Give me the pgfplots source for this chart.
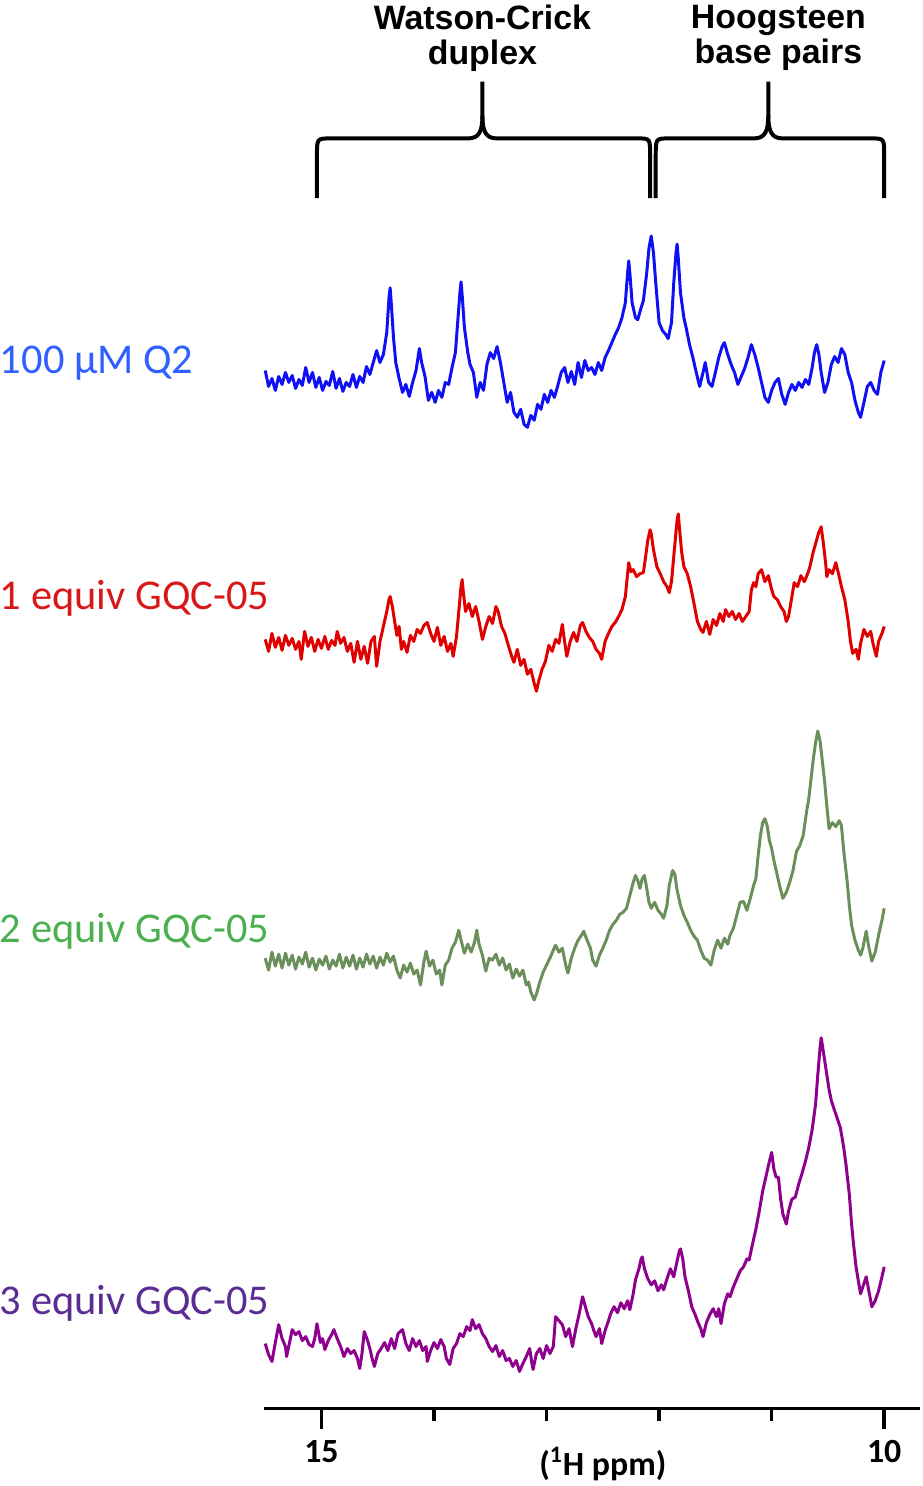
\documentclass[border=0pt]{standalone}
\usepackage{fontspec}
\setmainfont{Carlito}
\newfontfamily\headfont{Liberation Sans}
\usepackage{pgfplots}
\pgfplotsset{compat=1.18}
\definecolor{lnblue}{HTML}{1010F5}
\definecolor{lnred}{HTML}{E00000}
\definecolor{lngreen}{HTML}{6B8F5B}
\definecolor{lnpurple}{HTML}{8E008E}
\definecolor{lbblue}{HTML}{3060FF}
\definecolor{lbred}{HTML}{D81818}
\definecolor{lbgreen}{HTML}{4CAF50}
\definecolor{lbpurple}{HTML}{5A2D92}
\pgfplotsset{
  spec/.style={line width=1.5pt, line join=round, mark=none},
}

\begin{document}
\begin{tikzpicture}
\begin{axis}[
  x dir=reverse, x=56.5pt, y=0.5pt,
  xmin=9.68, xmax=15.51, ymin=0, ymax=1200,
  axis x line*=bottom, axis y line=none,
  x axis line style={-, line width=1.8pt},
  xtick={10,15}, minor xtick={11,12,13,14},
  tick align=outside, major tick length=10.5pt, minor tick length=6.5pt,
  tick style={line width=1.8pt, black},
  xticklabel style={font=\fontsize{17}{20}\selectfont\bfseries, yshift=-2pt},
  /pgf/number format/assume math mode=true,
  clip=false,
]
% 100 uM Q2
\addplot[spec, lnblue] coordinates {
(15.50,1042) (15.47,1026) (15.44,1034) (15.41,1022) (15.38,1036) (15.35,1028) (15.32,1040) (15.29,1030)
(15.26,1037) (15.23,1024) (15.20,1033) (15.17,1027) (15.14,1045) (15.11,1030) (15.08,1040) (15.05,1025)
(15.02,1035) (14.99,1022) (14.96,1031) (14.93,1027) (14.90,1041) (14.87,1024) (14.84,1034) (14.81,1021)
(14.78,1030) (14.75,1026) (14.72,1038) (14.69,1025) (14.66,1036) (14.63,1030) (14.60,1046) (14.57,1038)
(14.54,1050) (14.51,1062) (14.48,1050) (14.45,1058) (14.42,1080) (14.40,1115) (14.39,1125) (14.38,1110)
(14.36,1075) (14.34,1050) (14.31,1034) (14.28,1020) (14.25,1028) (14.22,1016) (14.19,1030) (14.16,1042)
(14.13,1064) (14.11,1050) (14.08,1036) (14.05,1012) (14.02,1020) (13.99,1010) (13.96,1022) (13.93,1015)
(13.90,1030) (13.87,1028) (13.84,1045) (13.81,1060) (13.79,1090) (13.77,1120) (13.76,1131) (13.75,1118)
(13.73,1085) (13.70,1060) (13.68,1048) (13.65,1040) (13.62,1015) (13.59,1030) (13.56,1022) (13.53,1048)
(13.50,1060) (13.47,1054) (13.44,1066) (13.41,1050) (13.38,1030) (13.35,1010) (13.32,1020) (13.29,1000)
(13.26,995) (13.23,1003) (13.20,988) (13.17,985) (13.14,997) (13.11,992) (13.08,1008) (13.05,1003)
(13.02,1018) (12.99,1010) (12.96,1022) (12.93,1015) (12.90,1027) (12.87,1040) (12.84,1045) (12.81,1030)
(12.78,1041) (12.75,1028) (12.72,1050) (12.69,1035) (12.66,1052) (12.63,1042) (12.60,1045) (12.57,1038)
(12.54,1050) (12.51,1042) (12.48,1055) (12.45,1062) (12.42,1070) (12.39,1078) (12.36,1085) (12.33,1095)
(12.30,1110) (12.28,1140) (12.27,1152) (12.26,1140) (12.24,1110) (12.21,1095) (12.19,1093) (12.16,1105)
(12.14,1112) (12.11,1140) (12.09,1165) (12.07,1177) (12.05,1160) (12.03,1130) (12.00,1090) (11.97,1082)
(11.94,1078) (11.92,1074) (11.89,1090) (11.87,1130) (11.85,1160) (11.84,1169) (11.83,1155) (11.81,1120)
(11.78,1095) (11.76,1085) (11.73,1068) (11.70,1055) (11.67,1040) (11.64,1026) (11.61,1040) (11.59,1050)
(11.56,1030) (11.53,1026) (11.50,1040) (11.47,1055) (11.44,1066) (11.42,1070) (11.39,1058) (11.36,1048)
(11.33,1040) (11.30,1028) (11.27,1036) (11.24,1044) (11.21,1055) (11.18,1068) (11.15,1058) (11.12,1045)
(11.09,1030) (11.06,1015) (11.03,1010) (11.00,1022) (10.97,1030) (10.94,1034) (10.91,1018) (10.88,1008)
(10.85,1020) (10.82,1028) (10.79,1022) (10.76,1030) (10.73,1025) (10.70,1033) (10.67,1028) (10.64,1045)
(10.62,1060) (10.60,1068) (10.58,1058) (10.56,1040) (10.53,1020) (10.50,1030) (10.47,1048) (10.44,1056)
(10.41,1050) (10.38,1064) (10.35,1058) (10.32,1040) (10.29,1030) (10.26,1012) (10.23,1000) (10.21,995)
(10.18,1010) (10.15,1026) (10.12,1030) (10.09,1022) (10.06,1018) (10.03,1040) (10.00,1052)
};
% 1 equiv GQC-05
\addplot[spec, lnred] coordinates {
(15.50,772) (15.47,760) (15.44,778) (15.41,764) (15.38,774) (15.35,761) (15.32,776) (15.29,766)
(15.26,773) (15.23,762) (15.20,770) (15.18,752) (15.15,780) (15.12,765) (15.09,774) (15.06,760)
(15.03,772) (15.00,763) (14.97,775) (14.94,762) (14.91,771) (14.88,766) (14.86,780) (14.83,768)
(14.80,774) (14.77,760) (14.74,768) (14.71,749) (14.68,770) (14.65,752) (14.62,765) (14.59,748)
(14.56,770) (14.53,775) (14.51,745) (14.48,770) (14.45,785) (14.42,800) (14.40,812) (14.39,815)
(14.37,805) (14.35,790) (14.33,776) (14.31,785) (14.29,762) (14.27,770) (14.24,759) (14.21,776)
(14.18,770) (14.15,782) (14.12,778) (14.09,786) (14.06,789) (14.03,778) (14.00,770) (13.97,784)
(13.94,766) (13.91,775) (13.88,760) (13.85,768) (13.83,755) (13.80,775) (13.78,800) (13.76,825)
(13.75,832) (13.74,820) (13.72,800) (13.69,808) (13.66,795) (13.63,805) (13.60,790) (13.57,772)
(13.54,785) (13.51,795) (13.48,788) (13.45,805) (13.43,800) (13.40,785) (13.37,778) (13.34,766)
(13.31,755) (13.29,749) (13.26,762) (13.23,746) (13.20,752) (13.17,737) (13.14,742) (13.11,728)
(13.09,720) (13.07,730) (13.04,742) (13.01,750) (12.98,766) (12.95,760) (12.92,772) (12.89,768)
(12.86,787) (12.84,770) (12.82,755) (12.79,770) (12.76,779) (12.73,770) (12.70,786) (12.68,789)
(12.65,780) (12.62,774) (12.59,770) (12.56,762) (12.53,758) (12.51,752) (12.48,770) (12.45,778)
(12.42,785) (12.39,789) (12.36,795) (12.33,802) (12.30,815) (12.28,838) (12.27,849) (12.25,840)
(12.23,842) (12.20,835) (12.17,838) (12.14,839) (12.12,855) (12.10,872) (12.08,882) (12.07,878)
(12.05,862) (12.02,845) (11.99,838) (11.96,830) (11.93,825) (11.91,819) (11.89,830) (11.87,855)
(11.85,880) (11.84,892) (11.83,898) (11.82,885) (11.80,860) (11.78,845) (11.75,838) (11.72,825)
(11.69,808) (11.66,790) (11.63,782) (11.61,779) (11.58,790) (11.55,777) (11.52,792) (11.49,786)
(11.46,798) (11.43,790) (11.41,802) (11.38,795) (11.35,800) (11.32,792) (11.29,798) (11.26,790)
(11.23,795) (11.20,800) (11.18,822) (11.16,829) (11.14,825) (11.12,838) (11.09,842) (11.06,830)
(11.03,836) (11.00,822) (10.98,815) (10.95,812) (10.92,805) (10.89,800) (10.87,790) (10.85,795)
(10.82,815) (10.80,829) (10.77,825) (10.74,836) (10.71,830) (10.68,838) (10.66,845) (10.63,860)
(10.60,872) (10.58,880) (10.56,885) (10.54,868) (10.52,848) (10.51,835) (10.49,842) (10.46,838)
(10.43,849) (10.41,840) (10.38,825) (10.35,812) (10.32,790) (10.30,770) (10.28,758) (10.25,762)
(10.23,752) (10.21,768) (10.18,782) (10.15,775) (10.12,780) (10.10,768) (10.07,755) (10.05,770)
(10.02,778) (10.00,785)
};
% 2 equiv GQC-05
\addplot[spec, lngreen] coordinates {
(15.50,452) (15.47,440) (15.44,458) (15.41,444) (15.38,456) (15.35,442) (15.32,457) (15.29,445)
(15.26,455) (15.23,441) (15.20,453) (15.17,446) (15.14,458) (15.11,443) (15.08,452) (15.05,440)
(15.02,451) (14.99,445) (14.96,454) (14.93,441) (14.90,450) (14.87,444) (14.84,456) (14.81,442)
(14.78,453) (14.75,444) (14.72,455) (14.69,441) (14.66,452) (14.63,443) (14.60,456) (14.57,446)
(14.54,454) (14.51,442) (14.48,453) (14.45,445) (14.42,457) (14.39,448) (14.36,454) (14.33,440)
(14.30,432) (14.27,445) (14.24,438) (14.21,447) (14.18,436) (14.15,440) (14.12,425) (14.09,448)
(14.07,459) (14.04,444) (14.01,450) (13.98,436) (13.95,440) (13.93,425) (13.90,445) (13.87,450)
(13.84,462) (13.81,468) (13.78,480) (13.76,470) (13.73,457) (13.70,466) (13.67,458) (13.64,468)
(13.62,480) (13.60,466) (13.57,455) (13.54,439) (13.51,452) (13.48,450) (13.45,456) (13.42,445)
(13.39,452) (13.36,440) (13.33,446) (13.30,432) (13.27,441) (13.24,434) (13.21,440) (13.18,425)
(13.16,428) (13.14,418) (13.11,410) (13.09,416) (13.06,428) (13.03,438) (13.00,445) (12.97,452)
(12.94,460) (12.92,465) (12.89,458) (12.86,462) (12.83,445) (12.81,437) (12.78,452) (12.75,462)
(12.72,470) (12.69,475) (12.67,479) (12.64,470) (12.61,462) (12.59,450) (12.56,444) (12.53,455)
(12.50,462) (12.47,470) (12.44,480) (12.41,486) (12.38,490) (12.35,496) (12.32,498) (12.29,502)
(12.26,515) (12.23,528) (12.21,535) (12.19,530) (12.17,522) (12.15,532) (12.13,535) (12.11,522)
(12.09,508) (12.07,502) (12.04,508) (12.01,500) (11.98,496) (11.96,492) (11.93,505) (11.91,525)
(11.88,540) (11.86,536) (11.84,520) (11.81,505) (11.78,495) (11.75,488) (11.72,480) (11.69,474)
(11.66,470) (11.63,460) (11.60,452) (11.57,450) (11.54,445) (11.51,460) (11.48,470) (11.45,462)
(11.42,472) (11.39,466) (11.37,475) (11.34,482) (11.31,495) (11.28,508) (11.25,509) (11.22,500)
(11.19,512) (11.16,525) (11.14,532) (11.12,555) (11.10,575) (11.08,588) (11.06,592) (11.04,585)
(11.02,570) (11.00,562) (10.98,550) (10.96,540) (10.93,525) (10.90,512) (10.87,518) (10.84,528)
(10.81,540) (10.78,559) (10.75,565) (10.72,575) (10.69,599) (10.67,612) (10.65,632) (10.63,652)
(10.61,668) (10.59,680) (10.57,670) (10.55,650) (10.53,630) (10.51,605) (10.49,582) (10.46,588)
(10.43,584) (10.40,590) (10.38,585) (10.36,560) (10.33,530) (10.31,505) (10.29,485) (10.26,470)
(10.23,460) (10.21,455) (10.19,462) (10.16,479) (10.14,465) (10.11,449) (10.08,458) (10.05,475)
(10.02,490) (10.00,502)
};
% 3 equiv GQC-05
\addplot[spec, lnpurple] coordinates {
(15.50,65) (15.47,54) (15.44,47) (15.41,66) (15.38,84) (15.35,70) (15.32,62) (15.31,52)
(15.28,68) (15.26,79) (15.23,74) (15.20,77) (15.17,68) (15.14,72) (15.11,64) (15.08,62)
(15.06,70) (15.04,85) (15.01,66) (14.99,70) (14.97,59) (14.94,68) (14.91,74) (14.89,79)
(14.86,70) (14.83,62) (14.80,52) (14.77,60) (14.74,55) (14.71,58) (14.68,50) (14.66,40)
(14.64,55) (14.62,77) (14.59,68) (14.57,60) (14.55,50) (14.53,42) (14.50,55) (14.47,60)
(14.44,66) (14.41,58) (14.38,70) (14.35,60) (14.32,75) (14.28,79) (14.25,65) (14.22,58)
(14.19,70) (14.16,62) (14.13,68) (14.10,58) (14.07,62) (14.06,47) (14.03,58) (14.00,66)
(13.97,60) (13.94,69) (13.91,62) (13.89,50) (13.86,44) (13.83,60) (13.80,65) (13.77,75)
(13.74,72) (13.71,82) (13.68,78) (13.66,89) (13.63,80) (13.60,84) (13.57,75) (13.54,70)
(13.51,62) (13.48,57) (13.45,63) (13.42,52) (13.39,58) (13.36,48) (13.33,50) (13.30,42)
(13.27,48) (13.24,37) (13.21,45) (13.18,52) (13.15,60) (13.13,45) (13.12,39) (13.09,55)
(13.06,60) (13.03,50) (13.00,63) (12.97,55) (12.94,62) (12.92,92) (12.89,88) (12.86,84)
(12.83,72) (12.80,80) (12.77,62) (12.74,80) (12.71,95) (12.68,112) (12.66,104) (12.63,92)
(12.60,85) (12.58,78) (12.56,72) (12.53,80) (12.51,65) (12.48,78) (12.45,88) (12.43,95)
(12.40,102) (12.37,96) (12.34,106) (12.31,100) (12.28,108) (12.26,99) (12.23,115) (12.21,129)
(12.18,140) (12.16,150) (12.15,152) (12.13,140) (12.10,130) (12.07,124) (12.04,128) (12.01,118)
(11.98,124) (11.96,119) (11.93,130) (11.90,140) (11.87,132) (11.84,148) (11.82,158) (11.81,160)
(11.79,150) (11.77,132) (11.74,118) (11.71,102) (11.68,94) (11.65,85) (11.63,80) (11.61,72)
(11.58,86) (11.55,94) (11.52,100) (11.49,92) (11.47,100) (11.45,85) (11.42,105) (11.39,115)
(11.37,112) (11.34,122) (11.31,130) (11.28,138) (11.25,142) (11.22,150) (11.20,149) (11.17,165)
(11.14,180) (11.11,198) (11.08,218) (11.06,228) (11.04,238) (11.02,248) (11.00,257) (10.98,240)
(10.96,232) (10.94,232) (10.92,210) (10.90,195) (10.87,185) (10.85,198) (10.82,210) (10.79,212)
(10.76,225) (10.73,236) (10.70,248) (10.67,262) (10.64,280) (10.61,305) (10.59,335) (10.57,362)
(10.56,372) (10.55,365) (10.53,350) (10.51,335) (10.49,320) (10.47,309) (10.45,302) (10.42,292)
(10.39,282) (10.36,262) (10.34,245) (10.31,215) (10.29,185) (10.27,162) (10.25,142) (10.23,128)
(10.21,115) (10.19,122) (10.16,132) (10.14,120) (10.11,102) (10.08,108) (10.05,118) (10.02,132)
(10.00,142)
};

% sample labels
\node[anchor=base west, inner sep=0, text=lbblue, font=\fontsize{21.3}{24}\selectfont] at (axis cs:17.86,1039) {100 μM Q2};
\node[anchor=base west, inner sep=0, text=lbred, font=\fontsize{21.3}{24}\selectfont] at (axis cs:17.86,802) {1 equiv GQC-05};
\node[anchor=base west, inner sep=0, text=lbgreen, font=\fontsize{21.3}{24}\selectfont] at (axis cs:17.86,468) {2 equiv GQC-05};
\node[anchor=base west, inner sep=0, text=lbpurple, font=\fontsize{21.3}{24}\selectfont] at (axis cs:17.86,94) {3 equiv GQC-05};

% x label
\node[inner sep=0, font=\fontsize{17}{20}\selectfont\bfseries] at (axis cs:12.50,-56) {(\textsuperscript{1}H ppm)};
\path (axis cs:12.5,-78);

% braces and region labels
\draw[line width=2pt, line cap=butt] (15.04,1215) -- (15.04,1258) .. controls (15.04,1275) .. (14.92,1275) -- (13.70,1275) .. controls (13.60,1275) and (13.57,1282) .. (13.57,1298) -- (13.57,1332);
\draw[line width=2pt, line cap=butt] (13.57,1298) .. controls (13.57,1282) and (13.54,1275) .. (13.44,1275) -- (12.19,1275) .. controls (12.08,1275) .. (12.08,1258) -- (12.08,1215);
\draw[line width=2pt, line cap=butt] (12.03,1215) -- (12.03,1258) .. controls (12.03,1275) .. (11.91,1275) -- (11.16,1275) .. controls (11.06,1275) and (11.03,1282) .. (11.03,1298) -- (11.03,1332);
\draw[line width=2pt, line cap=butt] (11.03,1298) .. controls (11.03,1282) and (11.00,1275) .. (10.90,1275) -- (10.12,1275) .. controls (10.00,1275) .. (10.00,1258) -- (10.00,1215);
\node[anchor=north, inner sep=0, align=center, font=\headfont\fontsize{17}{17.5}\selectfont\bfseries] at (axis cs:13.57,1409) {Watson-Crick\\duplex};
\node[anchor=north, inner sep=0, align=center, font=\headfont\fontsize{17}{17.5}\selectfont\bfseries] at (axis cs:10.94,1409) {Hoogsteen\\base pairs};
\path (axis cs:12.5,1414);
\end{axis}
\end{tikzpicture}
\end{document}
